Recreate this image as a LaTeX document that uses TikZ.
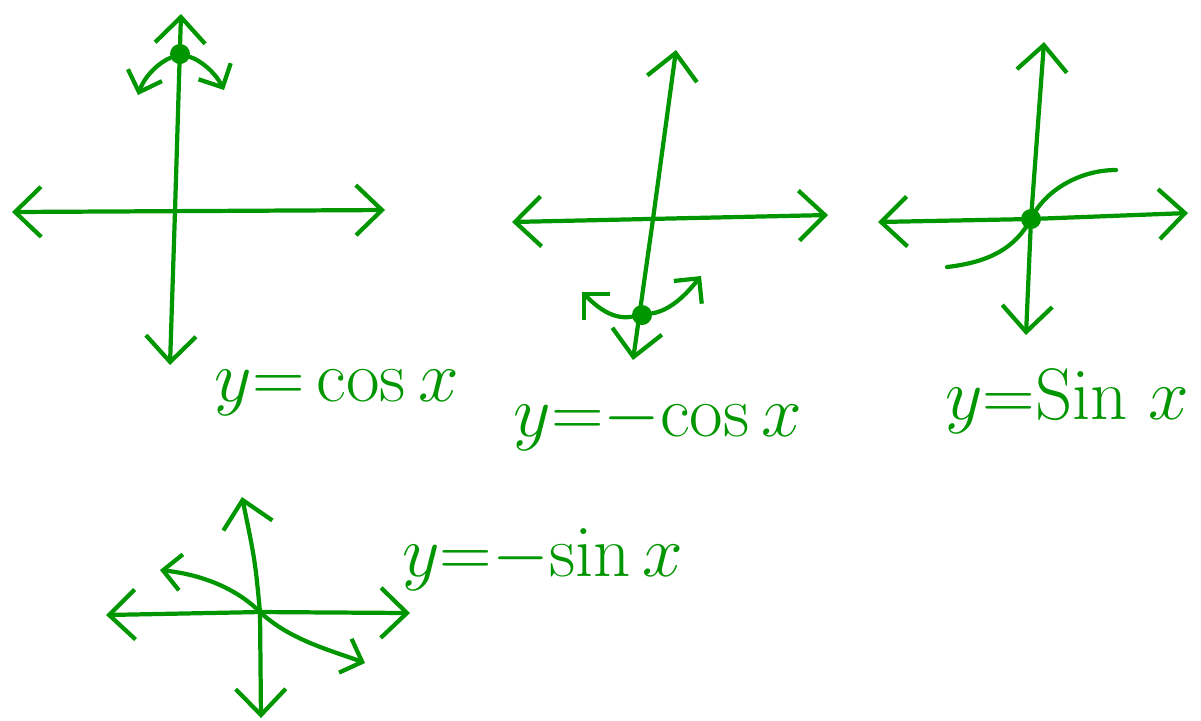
\documentclass[tikz,border=0pt]{standalone}
\usetikzlibrary{arrows.meta}
\definecolor{penGreen}{RGB}{0,150,0}
\tikzset{
  stroke/.style={penGreen, line width=1.2pt, line cap=round, line join=round},
  axis/.style={stroke, {Straight Barb[length=2.6mm,width=5mm]}-{Straight Barb[length=2.6mm,width=5mm]}},
  wave/.style={stroke, >={Straight Barb[length=1.8mm,width=3.6mm]}},
  dot/.style={circle, fill=penGreen, inner sep=0pt, minimum size=2mm},
  lbl/.style={text=penGreen, font=\fontsize{20}{24}\selectfont, inner sep=0pt}
}
\begin{document}
\begin{tikzpicture}[x=0.01cm, y=-0.01cm]
    \useasboundingbox (0,0) rectangle (1201,720);

    % 1. y = cos x (tren trai)
    \draw[axis] (12,212) -- (385,210);
    \draw[axis] (181,14) -- (175,211) -- (170,365);
    \node[dot] (max1) at (180,54) {};
    \draw[wave, ->] (max1) .. controls (160,62) and (145,75) .. (138,95);
    \draw[wave, ->] (max1) .. controls (200,60) and (215,72) .. (224,90);
    \node[lbl] (l1) at (337,393) {$y{=}\cos x$};

    % 2. y = -cos x (giua)
    \draw[axis] (512,222) -- (828,215);
    \draw[axis] (676,50) -- (653,219) -- (633,360);
    \node[dot] (min2) at (642,315) {};
    \draw[wave, ->] (min2) .. controls (612,320) and (596,306) .. (582,292);
    \draw[wave, ->] (min2) .. controls (672,310) and (688,292) .. (701,276);
    \node[lbl] (l2) at (658,422) {$y{=}{-}\!\cos x$};

    % 3. y = sin x (tren phai)
    \draw[axis] (878,222) -- (1031,219) -- (1188,213);
    \draw[axis] (1044,42) -- (1031,219) -- (1026,335);
    \node[dot] (o3) at (1031,219) {};
    \draw[wave] (947,267) .. controls (990,262) and (1015,248) .. (o3.center)
                          .. controls (1045,190) and (1080,170) .. (1116,170);
    \node[lbl] (l3) at (1067,402) {$y{=}\mathrm{Sin}\;x$};

    % 4. y = -sin x (duoi trai)
    \draw[axis] (106,615) -- (260,612) -- (410,613);
    \draw[axis] (242,497) .. controls (255,560) .. (260,612) -- (261,718);
    \draw[wave, <->] (160,570) .. controls (205,575) and (238,590) .. (260,612)
                              .. controls (290,640) and (330,650) .. (365,663);
    \node[lbl] (l4) at (543,560) {$y{=}{-}\!\sin x$};

\end{tikzpicture}
\end{document}
